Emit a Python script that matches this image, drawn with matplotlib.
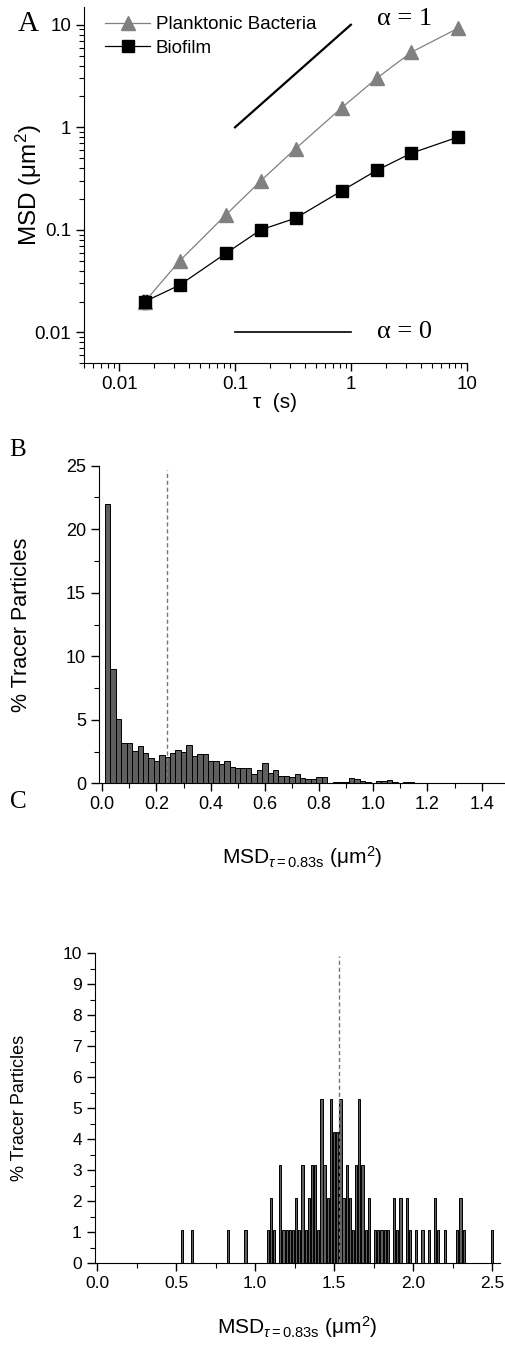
import numpy as np
import matplotlib
matplotlib.use('Agg')
import matplotlib.pyplot as plt
from matplotlib.ticker import MultipleLocator, LogLocator, NullFormatter, FixedLocator

plt.rcParams['font.family'] = ['Liberation Sans', 'DejaVu Sans']
plt.rcParams['mathtext.fontset'] = 'custom'
plt.rcParams['mathtext.rm'] = 'Liberation Sans'
plt.rcParams['mathtext.it'] = 'Liberation Sans:italic'
plt.rcParams['mathtext.bf'] = 'Liberation Sans:bold'

# panel A: MSD vs lag time
tau = [1/60, 2/60, 5/60, 10/60, 20/60, 50/60, 100/60, 200/60, 500/60]
msd_plank = [0.020, 0.050, 0.14, 0.30, 0.62, 1.55, 3.0, 5.4, 9.2]
err_plank = [0.003, 0.005, 0.012, 0.03, 0.06, 0.15, 0.3, 0.5, 0.9]
msd_bio = [0.020, 0.029, 0.059, 0.10, 0.13, 0.24, 0.38, 0.56, 0.80]
err_bio = [0.003, 0.002, 0.003, 0.005, 0.006, 0.01, 0.015, 0.02, 0.03]

# panel B: biofilm histogram (bin centres, % of particles)
b_centers = [0.02, 0.04, 0.06, 0.08, 0.10, 0.12, 0.14, 0.16, 0.18, 0.20,
             0.22, 0.24, 0.26, 0.28, 0.30, 0.32, 0.34, 0.36, 0.38, 0.40,
             0.42, 0.44, 0.46, 0.48, 0.50, 0.52, 0.54, 0.56, 0.58, 0.60,
             0.62, 0.64, 0.66, 0.68, 0.70, 0.72, 0.74, 0.76, 0.78, 0.80,
             0.82, 0.86, 0.88, 0.90, 0.92, 0.94, 0.96, 0.98, 1.00, 1.02,
             1.04, 1.06, 1.08, 1.12, 1.14, 1.18, 1.22, 1.32]
b_pct = [22.0, 9.0, 5.1, 3.15, 3.2, 2.55, 2.97, 2.4, 1.97, 1.76,
         2.23, 2.1, 2.4, 2.62, 2.44, 3.02, 2.18, 2.28, 2.34, 1.76,
         1.73, 1.52, 1.76, 1.26, 1.2, 1.18, 1.18, 0.73, 1.05, 1.57,
         0.79, 1.05, 0.58, 0.6, 0.47, 0.7, 0.45, 0.34, 0.37, 0.47,
         0.47, 0.08, 0.08, 0.1, 0.42, 0.3, 0.18, 0.12, 0.05, 0.15,
         0.15, 0.25, 0.13, 0.1, 0.1, 0.04, 0.04, 0.04]
b_median = 0.24

# panel C: planktonic histogram
c_centers = [0.54, 0.60, 0.83, 0.94, 1.08, 1.10, 1.12, 1.16, 1.18, 1.20,
             1.22, 1.24, 1.26, 1.28, 1.30, 1.32, 1.34, 1.36, 1.38, 1.40,
             1.42, 1.44, 1.46, 1.48, 1.50, 1.52, 1.54, 1.56, 1.58, 1.60,
             1.62, 1.64, 1.66, 1.68, 1.70, 1.72, 1.76, 1.78, 1.80, 1.82,
             1.84, 1.88, 1.90, 1.92, 1.96, 1.98, 2.02, 2.06, 2.10, 2.14,
             2.16, 2.20, 2.28, 2.30, 2.32, 2.50]
c_pct = [1.06, 1.06, 1.06, 1.06, 1.06, 2.12, 1.06, 3.18, 1.06, 1.06,
         1.06, 1.06, 2.12, 1.06, 3.18, 1.06, 2.12, 3.18, 3.18, 1.06,
         5.3, 3.18, 2.12, 5.3, 4.24, 4.24, 5.3, 2.12, 3.18, 2.12,
         1.06, 3.18, 5.3, 3.18, 1.06, 2.12, 1.06, 1.06, 1.06, 1.06,
         1.06, 2.12, 1.06, 2.12, 2.12, 1.06, 1.06, 1.06, 1.06, 2.12,
         1.06, 1.06, 1.06, 2.12, 1.06, 1.06]
c_median = 1.53

W, H = 506, 1351
fig = plt.figure(figsize=(W / 100, H / 100), dpi=100)


def px_axes(left, right, top, bottom):
    return fig.add_axes([left / W, 1 - bottom / H, (right - left) / W, (bottom - top) / H])


serif = ['Liberation Serif', 'DejaVu Serif']
msd_label = r'MSD$_{\tau\mathrm{=0.83s}}$ (μm$^2$)'

# ---- A ----
axA = px_axes(84.3, 466.7, 6.7, 363.3)
axA.set_xscale('log')
axA.set_yscale('log')
axA.plot([0.1, 1], [1, 10], color='black', lw=1.6)
axA.plot([0.1, 1], [0.01, 0.01], color='black', lw=1.2)
axA.errorbar(tau, msd_plank, yerr=err_plank, fmt='none', ecolor='#909090', elinewidth=0.8)
axA.errorbar(tau, msd_bio, yerr=err_bio, fmt='none', ecolor='black', elinewidth=0.8, capsize=2)
axA.plot(tau, msd_plank, color='#808080', marker='^', ms=10, lw=0.9, label='Planktonic Bacteria')
axA.plot(tau, msd_bio, color='black', marker='s', ms=8, lw=0.9, label='Biofilm')
axA.set_xlim(0.005, 10)
axA.set_ylim(0.005, 15)
axA.xaxis.set_major_locator(FixedLocator([0.01, 0.1, 1, 10]))
axA.set_xticklabels(['0.01', '0.1', '1', '10'])
axA.yaxis.set_major_locator(FixedLocator([0.01, 0.1, 1, 10]))
axA.set_yticklabels(['0.01', '0.1', '1', '10'])
axA.xaxis.set_minor_locator(LogLocator(base=10, subs=np.arange(2, 10)))
axA.yaxis.set_minor_locator(LogLocator(base=10, subs=np.arange(2, 10)))
axA.xaxis.set_minor_formatter(NullFormatter())
axA.yaxis.set_minor_formatter(NullFormatter())
axA.spines['top'].set_visible(False)
axA.spines['right'].set_visible(False)
axA.tick_params(which='major', direction='out', length=6, width=1, labelsize=13.5)
axA.tick_params(which='minor', direction='out', length=3.5, width=0.8)
axA.set_xlabel('τ  (s)', fontsize=15, labelpad=0)
axA.set_ylabel('MSD (μm$^2$)', fontsize=17.5)
axA.yaxis.set_label_coords(-0.105, 0.5)
axA.text(2.9, 11.3, 'α = 1', family=serif, fontsize=19, ha='center', va='center')
axA.text(2.9, 0.0100, 'α = 0', family=serif, fontsize=19, ha='center', va='center')
axA.legend(loc='upper left', bbox_to_anchor=(0.035, 0.995), frameon=False, fontsize=13.5,
           handlelength=2.4, handletextpad=0.3, labelspacing=0.35, borderaxespad=0)
fig.text(28 / W, 1 - 24 / H, 'A', family=serif, fontsize=21, ha='center', va='center')

# ---- B ----
axB = px_axes(99.3, 506, 465.7, 783.3)
axB.bar(b_centers, b_pct, width=0.02, color='#5f5f5f', edgecolor='black', linewidth=0.7)
axB.plot([b_median, b_median], [0, 24.7], color='#777777', ls=(0, (3, 2)), lw=1)
axB.set_xlim(-0.011, 1.49)
axB.set_ylim(0, 25)
axB.xaxis.set_major_locator(FixedLocator([0.0, 0.2, 0.4, 0.6, 0.8, 1.0, 1.2, 1.4]))
axB.xaxis.set_minor_locator(FixedLocator([0.1, 0.3, 0.5, 0.7, 0.9, 1.1, 1.3]))
axB.yaxis.set_major_locator(MultipleLocator(5))
axB.yaxis.set_minor_locator(MultipleLocator(2.5))
axB.spines['top'].set_visible(False)
axB.spines['right'].set_visible(False)
axB.tick_params(which='major', direction='out', length=6, width=1, labelsize=13)
axB.tick_params(which='minor', direction='out', length=3.5, width=0.8)
axB.set_ylabel('% Tracer Particles', fontsize=15.5)
axB.yaxis.set_label_coords(-0.165, 0.5)
axB.set_xlabel(msd_label, fontsize=15, labelpad=22)
fig.text(18 / W, 1 - 450 / H, 'B', family=serif, fontsize=18, ha='center', va='center')

# ---- C ----
axC = px_axes(95, 500, 953.3, 1263.3)
axC.bar(c_centers, c_pct, width=0.014, color='#606060', edgecolor='black', linewidth=0.7)
axC.plot([c_median, c_median], [0, 9.9], color='#777777', ls=(0, (3, 2)), lw=1)
axC.set_xlim(-0.013, 2.55)
axC.set_ylim(0, 10)
axC.xaxis.set_major_locator(FixedLocator([0.0, 0.5, 1.0, 1.5, 2.0, 2.5]))
axC.xaxis.set_minor_locator(FixedLocator([0.25, 0.75, 1.25, 1.75, 2.25]))
axC.yaxis.set_major_locator(MultipleLocator(1))
axC.yaxis.set_minor_locator(MultipleLocator(0.5))
axC.spines['top'].set_visible(False)
axC.spines['right'].set_visible(False)
axC.tick_params(which='major', direction='out', length=6, width=1, labelsize=12.5)
axC.tick_params(which='minor', direction='out', length=3.5, width=0.8)
axC.set_ylabel('% Tracer Particles', fontsize=13)
axC.yaxis.set_label_coords(-0.165, 0.5)
axC.set_xlabel(msd_label, fontsize=15, labelpad=16)
fig.text(18 / W, 1 - 802 / H, 'C', family=serif, fontsize=18, ha='center', va='center')

fig.savefig('out.png', dpi=100)
